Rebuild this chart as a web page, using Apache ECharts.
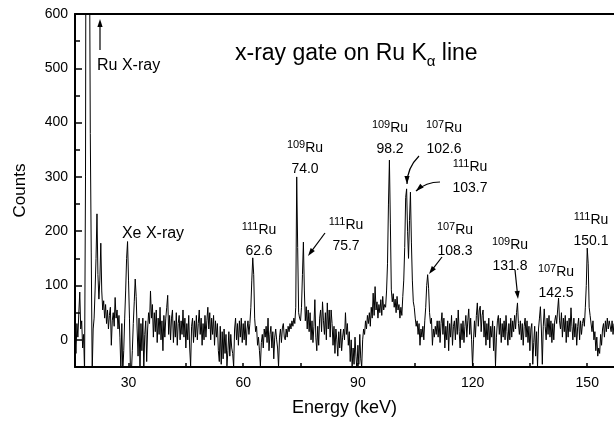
<!DOCTYPE html>
<html>
<head>
<meta charset="utf-8">
<script src="https://cdn.jsdelivr.net/npm/echarts@6/dist/echarts.min.js"></script>
<style>
  html, body { margin: 0; padding: 0; background: #ffffff; }
  #chart { width: 614px; height: 423px; }
</style>
</head>
<body>
<div id="chart"></div>
<script>
// Gamma-ray spectrum gated on the Ru K-alpha x-ray line.
// Channel calibration: energy of channel i = start + i * width (keV).
const channelStartKeV = 16;
const channelWidthKeV = 0.25;

// Counts per channel, 20 channels (5 keV) per row.
const counts = [
  10, -25, 30, 5, 50, 88, 20, 35, -15, 10, -60, 300, 1400, 2600, 1800, 800, 380, 160, -60, 20,      // 16.00
  40, 90, 150, 232, 120, 75, 110, 178, 90, 55, 72, 40, 65, 30, 55, 20, 45, 60, -10, 35,             // 21.00
  50, 25, 78, 40, 55, 20, 45, 5, -55, 30, -60, -20, 40, 90, 150, 181, 110, 40, -55, -60,            // 26.00
  -20, 30, 70, 112, 80, 20, -30, 40, -60, 30, -20, 40, -55, 10, 35, -40, 20, 50, 30, 90,            // 31.00
  40, 65, 5, 50, 15, 55, -5, 40, 10, 60, 0, 35, -20, 45, 5, 40, 60, 82, 10, 45,                     // 36.00
  0, 40, 55, -5, 35, 5, 50, -10, 30, 45, 0, 35, 10, 55, 5, 40, -15, 30, 0, 45,                      // 41.00
  -15, -48, 25, 40, -5, 35, 5, 45, 0, 30, 55, 10, 40, -10, 30, 0, 45, 5, 35, 60,                    // 46.00
  20, 50, 0, 40, 10, 45, -10, 35, 5, 30, -20, -40, 25, -45, 15, -35, 20, -25, 10, -48,              // 51.00
  -20, 15, -30, 10, -15, -25, -50, 20, 40, 0, 30, -10, 35, 5, 40, -5, 30, 0, 35, -10,               // 56.00
  20, 35, 10, 30, 60, 110, 151, 120, 40, 15, 25, -10, 5, -20, -48, -5, 10, -15, 20, 5,              // 61.00
  25, -5, 40, -20, 10, 25, -15, 15, -35, 5, 20, 0, -15, -50, 5, 20, -5, 22, 30, 5,                  // 66.00
  0, 20, 5, 25, 15, 30, 20, 35, 25, 40, 30, 60, 300, 170, 50, 40, 35, 60, 120, 180,                 // 71.00
  90, 35, 61, 20, 55, 15, 50, 0, 35, -5, 25, 74, 5, -20, 25, -10, 40, 55, 15, 70,                   // 76.00
  35, 10, 50, 0, 68, 20, 55, 5, 55, 30, -10, 25, -25, 20, 0, -30, 15, -15, 20, -20,                 // 81.00
  5, 20, 0, 50, 10, 30, -10, 15, -40, 0, -50, -15, -45, 5, -30, -55, -10, -45, 10, -35,             // 86.00
  -50, 0, 20, 10, 35, 20, 45, 30, 50, 25, 60, 40, 86, 45, 98, 55, 70, 40, 65, 50,                   // 91.00
  74, 45, 80, 55, 65, 60, 90, 140, 250, 331, 215, 92, 70, 85, 60, 75, 50, 80, 55, 65,               // 96.00
  40, 60, 45, 80, 110, 170, 262, 278, 200, 150, 220, 272, 180, 110, 70, 60, 40, 25, 35, 10,         // 101.00
  30, -10, 20, 5, 25, 0, 35, 60, 100, 120, 95, 50, 30, 40, -10, 20, 5, 25, 10, 35,                  // 106.00
  5, 35, -5, 30, 50, 10, 40, -15, 25, 0, 35, -20, 30, 5, 45, -10, 25, 35, 0, 40,                    // 111.00
  10, 55, 15, -15, 30, 0, 35, -5, 25, 45, 5, 35, 57, 10, 40, 0, -50, 0, 35, 5,                      // 116.00
  45, 68, 25, 55, 62, 15, 45, 55, 5, 35, -10, 30, 0, 40, -15, 25, 5, 35, -20, 25,                   // 121.00
  -48, 5, 35, 45, 10, 40, -5, 30, 5, 35, 0, 45, 15, -10, 30, 0, 40, 5, 35, 15,                      // 126.00
  45, 20, 50, 68, 30, 10, 35, 0, 30, -10, 25, 40, 5, 35, -5, 25, -20, 20, 30, -45,                  // 131.00
  -5, 25, -30, 15, -50, 20, 40, 61, 20, -45, 25, 57, 25, 0, 40, 10, 45, 5, 35, -5,                  // 136.00
  30, 0, 35, 45, 30, 55, 77, 35, 20, 50, 5, 40, 15, 45, -5, 35, 5, 40, 15, 59,                      // 141.00
  25, 0, 40, 5, 30, -10, 25, 40, 0, 35, 10, 30, 40, 25, 60, 100, 169, 140, 60, 45,                  // 146.00
  42, 15, 35, 0, 15, -20, 5, -30, -15, -25, 10, -10, 20, 30, 5, 35, 15, 40, 20, 35,                 // 151.00
  37, 15, 35, 10, 30                                                                                 // 156.00
];

// Axis ticks and labels
const energyRange = [16, 157];
const energyTickLabels = [30, 60, 90, 120, 150];
const energyTickMarks = [30, 45, 60, 75, 90, 105, 120, 135, 150];
const countRange = [-50, 600];
const countTickLabels = [0, 100, 200, 300, 400, 500, 600];
const countMinorTicks = [-50, 50, 150, 250, 350, 450, 550];

// Peak annotations: mass number and energy (keV)
const peakMass = ['109', '109', '107', '111', '111', '111', '107', '109', '107', '111'];
const peakEnergy = ['74.0', '98.2', '102.6', '103.7', '62.6', '75.7', '108.3', '131.8', '142.5', '150.1'];

const titleText = ['x-ray gate on Ru K', 'α', ' line'];
const xrayLabels = ['Ru X-ray', 'Xe X-ray'];

const FONT = "'Liberation Sans', Arial, Helvetica, sans-serif";

const spectrum = counts.map((c, i) => [channelStartKeV + i * channelWidthKeV, c]);

// Label block positions (centre x, top y) in pixels
const peakLabelPos = [
  [305, 139], [390, 119], [444, 119], [470, 158], [259, 221],
  [346, 216], [455, 221], [510, 236], [556, 263], [591, 211]
];

function arrowHead(tx, ty, fx, fy, len, half) {
  const dx = tx - fx, dy = ty - fy, d = Math.hypot(dx, dy);
  const ux = dx / d, uy = dy / d;
  const bx = tx - ux * len, by = ty - uy * len;
  return {
    type: 'polygon', silent: true, z: 100,
    shape: { points: [[tx, ty], [bx - uy * half, by + ux * half], [bx + uy * half, by - ux * half]] },
    style: { fill: '#000' }
  };
}
function straightArrow(x1, y1, x2, y2) {
  const d = Math.hypot(x2 - x1, y2 - y1);
  const ex = x2 - (x2 - x1) / d * 6, ey = y2 - (y2 - y1) / d * 6;
  return [
    { type: 'line', silent: true, z: 100, shape: { x1: x1, y1: y1, x2: ex, y2: ey }, style: { stroke: '#000', lineWidth: 1.2 } },
    arrowHead(x2, y2, x1, y1, 8, 2.6)
  ];
}
function curvedArrow(x1, y1, cx, cy, x2, y2) {
  return [
    { type: 'bezierCurve', silent: true, z: 100, shape: { x1: x1, y1: y1, cpx1: cx, cpy1: cy, x2: x2, y2: y2 }, style: { stroke: '#000', lineWidth: 1.2, fill: null } },
    arrowHead(x2, y2, cx, cy, 8, 2.6)
  ];
}

const graphics = [];

// Title with subscript alpha
graphics.push({
  type: 'text', silent: true, z: 100, x: 235, y: 42,
  style: {
    text: '{m|' + titleText[0] + '}{s|' + titleText[1] + '}{m|' + titleText[2] + '}',
    align: 'left', verticalAlign: 'top', fill: '#000',
    rich: {
      m: { fontSize: 23, lineHeight: 23, verticalAlign: 'top', fontFamily: FONT, fill: '#000' },
      s: { fontSize: 15, lineHeight: 27, verticalAlign: 'bottom', fontFamily: FONT, fill: '#000' }
    }
  }
});

// X-ray labels
graphics.push({
  type: 'text', silent: true, z: 100, x: 97, y: 66,
  style: { text: xrayLabels[0], fontSize: 16, fontFamily: FONT, fill: '#000', align: 'left', verticalAlign: 'middle' }
});
graphics.push({
  type: 'text', silent: true, z: 100, x: 153, y: 234,
  style: { text: xrayLabels[1], fontSize: 16, fontFamily: FONT, fill: '#000', align: 'center', verticalAlign: 'middle' }
});

// Peak labels: superscript mass number, element, energy on second line
peakMass.forEach((m, i) => {
  graphics.push({
    type: 'text', silent: true, z: 100, x: peakLabelPos[i][0], y: peakLabelPos[i][1],
    style: {
      text: '{sup|' + m + '}{m|Ru}\n{n|' + peakEnergy[i] + '}',
      align: 'center', verticalAlign: 'top', fill: '#000',
      rich: {
        sup: { fontSize: 11, lineHeight: 16, verticalAlign: 'top', fontFamily: FONT, fill: '#000' },
        m: { fontSize: 14, lineHeight: 16, verticalAlign: 'bottom', fontFamily: FONT, fill: '#000' },
        n: { fontSize: 14, lineHeight: 21, verticalAlign: 'bottom', fontFamily: FONT, fill: '#000' }
      }
    }
  });
});

// Arrows
graphics.push(...straightArrow(100, 50, 100, 19));
graphics.push(...curvedArrow(419, 156, 407, 168, 407, 184));
graphics.push(...curvedArrow(440, 182, 426, 182, 416, 191));
graphics.push(...straightArrow(325, 233, 308, 256));
graphics.push(...straightArrow(442, 257, 429, 274));
graphics.push(...straightArrow(515, 270, 518, 299));

const chart = echarts.init(document.getElementById('chart'), null, { renderer: 'canvas' });

const axisBlack = { color: '#000', width: 2 };

chart.setOption({
  animation: false,
  backgroundColor: '#ffffff',
  textStyle: { fontFamily: FONT, color: '#000' },
  grid: { left: 75, right: 0, top: 14, bottom: 56, containLabel: false },
  xAxis: [
    {
      type: 'value', position: 'bottom', min: energyRange[0], max: energyRange[1],
      axisLine: { show: true, onZero: false, lineStyle: axisBlack },
      axisTick: { show: true, inside: true, length: 4, customValues: energyTickMarks, lineStyle: { color: '#000', width: 1.5 } },
      axisLabel: { show: true, customValues: energyTickLabels, color: '#000', fontSize: 14, fontFamily: FONT, margin: 9 },
      splitLine: { show: false },
      name: 'Energy (keV)', nameLocation: 'middle', nameGap: 32,
      nameTextStyle: { fontSize: 18, fontFamily: FONT, color: '#000' }
    },
    {
      type: 'value', position: 'top', min: energyRange[0], max: energyRange[1],
      axisLine: { show: true, onZero: false, lineStyle: axisBlack },
      axisTick: { show: false }, axisLabel: { show: false }, splitLine: { show: false }
    }
  ],
  yAxis: [
    {
      type: 'value', position: 'left', min: countRange[0], max: countRange[1],
      axisLine: { show: true, onZero: false, lineStyle: axisBlack },
      axisTick: { show: true, inside: true, length: 7, customValues: countTickLabels, lineStyle: { color: '#000', width: 1.5 } },
      axisLabel: { show: true, customValues: countTickLabels, color: '#000', fontSize: 14, fontFamily: FONT, margin: 7 },
      splitLine: { show: false },
      name: 'Counts', nameLocation: 'middle', nameGap: 46,
      nameTextStyle: { fontSize: 17, fontFamily: FONT, color: '#000' }
    },
    {
      type: 'value', position: 'left', offset: 0, min: countRange[0], max: countRange[1],
      axisLine: { show: false },
      axisTick: { show: true, inside: true, length: 5, customValues: countMinorTicks, lineStyle: { color: '#000', width: 1.5 } },
      axisLabel: { show: false }, splitLine: { show: false }
    }
  ],
  series: [
    {
      type: 'line', xAxisIndex: 0, yAxisIndex: 0, data: spectrum,
      showSymbol: false, symbol: 'none', sampling: null, clip: true,
      lineStyle: { color: '#000', width: 1 }
    }
  ],
  graphic: { elements: graphics }
});
</script>
</body>
</html>
